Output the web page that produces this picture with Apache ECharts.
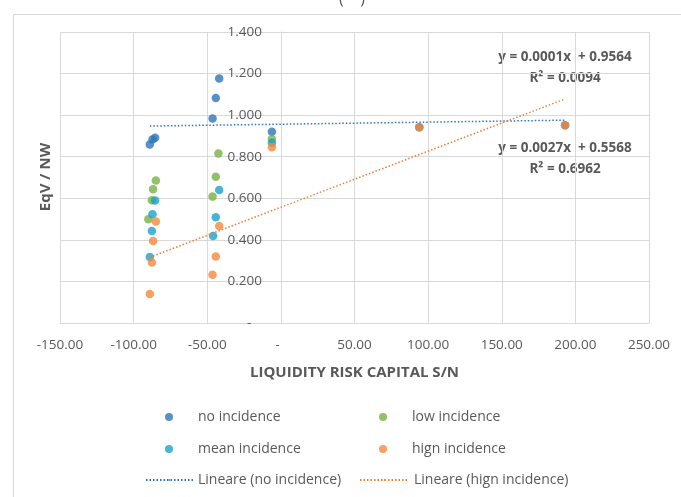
<!DOCTYPE html>
<html><head><meta charset="utf-8">
<script src="https://cdn.jsdelivr.net/npm/echarts@6/dist/echarts.min.js"></script>
<style>html,body{margin:0;padding:0;background:#fff}#c{width:681px;height:497px}</style>
</head><body><div id="c"></div>
<script>
// ---- data ----
const seriesNames = ['no incidence', 'low incidence', 'mean incidence', 'hign incidence'];
const noIncidence = [[-41.9,1.176],[-44.2,1.083],[-46.4,0.984],[-85.4,0.891],[-87.2,0.883],[-89.0,0.859],[-6.1,0.920],[94.0,0.942],[193.0,0.951]];
const lowIncidence = [[-42.4,0.816],[-44.2,0.704],[-46.4,0.608],[-84.9,0.686],[-86.8,0.644],[-87.6,0.590],[-90.0,0.499],[-6.1,0.885]];
const meanIncidence = [[-41.9,0.640],[-85.4,0.589],[-87.2,0.523],[-87.6,0.443],[-89.0,0.317],[-44.2,0.509],[-46.0,0.419],[-6.1,0.867]];
const highIncidence = [[-84.9,0.488],[-86.8,0.395],[-87.6,0.291],[-89.0,0.139],[-41.9,0.467],[-44.2,0.320],[-46.4,0.232],[-6.1,0.845],[94.0,0.942],[193.0,0.951]];
const trendNo = {slope: 0.0001, intercept: 0.9564, r2: 0.0094};
const trendHigh = {slope: 0.0027, intercept: 0.5568, r2: 0.6962};
const xTicks = {min: -150, max: 250, interval: 50};
const yTicks = {min: 0, max: 1.4, interval: 0.2};

function trendLine(pts, t) {
  const xs = pts.map(p => p[0]);
  const a = Math.min(...xs), b = Math.max(...xs);
  return [[a, t.slope * a + t.intercept], [b, t.slope * b + t.intercept]];
}
const eqText = t => 'y = ' + t.slope.toFixed(4) + 'x  + ' + t.intercept.toFixed(4);
const r2Text = t => 'R² = ' + t.r2.toFixed(4);

const colors = {no: '#2E75B6', low: '#78B243', mean: '#1BA3C9', high: '#F5883A'};
const txt = '#595959';
const FONT = 'Open Sans';
const GRID_LEFT = 60;

const chart = echarts.init(document.getElementById('c'), null, {renderer: 'canvas'});
const legendDot = (name, left, top) => ({
  data: [name], left: left, top: top, itemWidth: 8, itemHeight: 8, padding: 0,
  textStyle: {color: txt, fontSize: 14, fontFamily: FONT, padding: [0, 0, 0, 20]}, selectedMode: false
});
const legendLine = (name, left, top, w) => ({
  data: [name], left: left, top: top, itemWidth: w, itemHeight: 2, padding: 0,
  textStyle: {color: txt, fontSize: 14, fontFamily: FONT}, selectedMode: false
});
chart.setOption({
  animation: false,
  textStyle: {fontFamily: FONT},
  grid: {left: GRID_LEFT, right: 32, top: 32, bottom: 174, containLabel: false},
  xAxis: {
    type: 'value', min: xTicks.min, max: xTicks.max, interval: xTicks.interval,
    name: 'LIQUIDITY RISK CAPITAL S/N', nameLocation: 'middle', nameGap: 42,
    nameTextStyle: {color: txt, fontSize: 15, fontWeight: 'bold', fontFamily: FONT},
    axisLine: {show: true, onZero: false, lineStyle: {color: '#d9d9d9'}},
    axisTick: {show: false},
    axisLabel: {color: txt, fontSize: 13.5, margin: 15, fontFamily: FONT,
      formatter: v => v === 0 ? '-  ' : v.toFixed(2)},
    splitLine: {show: true, lineStyle: {color: '#d9d9d9'}}
  },
  yAxis: {
    type: 'value', min: yTicks.min, max: yTicks.max, interval: yTicks.interval,
    position: 'left',
    axisLine: {show: true, onZero: false, lineStyle: {color: '#d9d9d9'}},
    axisTick: {show: false},
    axisLabel: {color: txt, fontSize: 13.5, margin: 19, fontFamily: FONT,
      formatter: v => v === 0 ? '-   ' : v.toFixed(3)},
    splitLine: {show: true, lineStyle: {color: '#d9d9d9'}}
  },
  legend: [
    legendDot('no incidence', 165, 410),
    legendDot('low incidence', 379, 410),
    legendDot('mean incidence', 165, 442),
    legendDot('hign incidence', 379, 442),
    legendLine('Lineare (no incidence)', 145, 473, 47),
    legendLine('Lineare (hign incidence)', 359, 473, 49)
  ],
  graphic: [
    {type: 'rect', shape: {x: 13.5, y: 14.5, width: 700, height: 500}, style: {fill: 'none', stroke: '#d9d9d9', lineWidth: 1}, silent: true, z: -10},
    {type: 'text', left: 339, top: -9, style: {text: '(    )', fontSize: 16, fill: txt, fontFamily: FONT}},
    {type: 'text', x: 46, y: 177, rotation: Math.PI / 2, style: {text: 'EqV / NW', fontSize: 15, fontWeight: 'bold', fill: txt, fontFamily: FONT, align: 'center', verticalAlign: 'middle'}},
    {type: 'text', x: 565, y: 57, style: {text: eqText(trendNo), fontSize: 13.5, fontWeight: 'bold', fill: txt, fontFamily: FONT, align: 'center', verticalAlign: 'middle'}},
    {type: 'text', x: 565, y: 78, style: {text: r2Text(trendNo), fontSize: 13.5, fontWeight: 'bold', fill: txt, fontFamily: FONT, align: 'center', verticalAlign: 'middle'}},
    {type: 'text', x: 565, y: 148, style: {text: eqText(trendHigh), fontSize: 13.5, fontWeight: 'bold', fill: txt, fontFamily: FONT, align: 'center', verticalAlign: 'middle'}},
    {type: 'text', x: 565, y: 169, style: {text: r2Text(trendHigh), fontSize: 13.5, fontWeight: 'bold', fill: txt, fontFamily: FONT, align: 'center', verticalAlign: 'middle'}}
  ],
  series: [
    {name: 'no incidence', type: 'scatter', data: noIncidence, symbolSize: 8.5, itemStyle: {color: colors.no}, z: 3},
    {name: 'low incidence', type: 'scatter', data: lowIncidence, symbolSize: 8.5, itemStyle: {color: colors.low}, z: 3},
    {name: 'mean incidence', type: 'scatter', data: meanIncidence, symbolSize: 8.5, itemStyle: {color: colors.mean}, z: 3},
    {name: 'hign incidence', type: 'scatter', data: highIncidence, symbolSize: 8.5, itemStyle: {color: colors.high}, z: 3},
    {name: 'Lineare (no incidence)', type: 'line', data: trendLine(noIncidence, trendNo), symbol: 'none',
      lineStyle: {color: colors.no, width: 1.5, type: [1.5, 2]}, itemStyle: {color: colors.no}, z: 4},
    {name: 'Lineare (hign incidence)', type: 'line', data: trendLine(highIncidence, trendHigh), symbol: 'none',
      lineStyle: {color: '#ED7D31', width: 1.5, type: [1.5, 2]}, itemStyle: {color: '#ED7D31'}, z: 4}
  ]
});
// place the y axis where x = 0 (axis crossing at zero)
const zeroPx = chart.convertToPixel({xAxisIndex: 0}, 0);
chart.setOption({yAxis: {offset: -(zeroPx - GRID_LEFT)}});
</script></body></html>
